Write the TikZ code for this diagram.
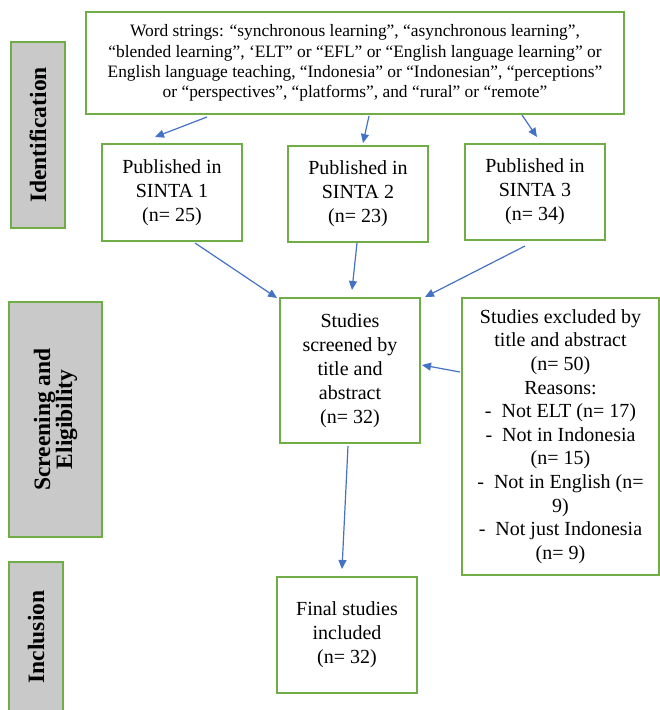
\documentclass[tikz,border=0pt]{standalone}
\usepackage{fontspec}
\setmainfont{Liberation Serif}
\newfontfamily\recordfont{Liberation Serif}
\usetikzlibrary{arrows.meta,positioning}

\definecolor{boxgreen}{RGB}{112,173,71}
\definecolor{arrowblue}{RGB}{68,114,196}
\definecolor{phasegray}{RGB}{201,201,201}

\begin{document}
\begin{tikzpicture}[
  x=1pt,
  y=-1pt,
  search box/.style={
    draw=boxgreen,
    line width=1.2pt,
    align=center,
    inner sep=0pt,
    outer sep=0pt,
    font=\recordfont\fontsize{17.4}{20.3}\selectfont
  },
  record box/.style={
    draw=boxgreen,
    line width=1.2pt,
    align=center,
    inner sep=0pt,
    outer sep=0pt,
    minimum width=140pt,
    font=\recordfont\fontsize{20}{24}\selectfont
  },
  phase box/.style={
    draw=boxgreen,
    fill=phasegray,
    line width=1.2pt,
    rotate=90,
    align=center,
    inner sep=0pt,
    outer sep=0pt,
    font=\recordfont\fontsize{23.5}{22}\selectfont\bfseries
  },
  flow arrow/.style={
    -{Triangle[length=9pt,width=8pt]},
    draw=arrowblue,
    line width=1.2pt
  }
]
\useasboundingbox (0,0) rectangle (660,710);

\node[phase box,minimum width=186pt,minimum height=54pt] (identification) at (38,135) {Identification};
\node[phase box,minimum width=235pt,minimum height=93pt] (screening) at (55.5,419.5) {Screening and\\Eligibility};
\node[phase box,minimum width=150pt,minimum height=54pt] (inclusion) at (36,637) {Inclusion};

\node[search box,minimum width=538pt,minimum height=102pt] (search) at (355,63) {
  Word strings: “synchronous learning”, “asynchronous learning”,\\
  “blended learning”, ‘ELT” or “EFL” or “English language learning” or\\
  English language teaching, “Indonesia” or “Indonesian”, “perceptions”\\
  or “perspectives”, “platforms”, and “rural” or “remote”
};

\node[record box,minimum height=97pt] (sinta1) at (172,192.5) {Published in\\SINTA 1\\(n= 25)};
\node[record box,minimum height=96pt] (sinta2) at (358,194) {Published in\\SINTA 2\\(n= 23)};
\node[record box,minimum height=96pt] (sinta3) at (535,192) {Published in\\SINTA 3\\(n= 34)};

\node[record box,minimum height=145pt] (screened) at (350,370.5) {
  Studies\\screened by\\title and\\abstract\\(n= 32)
};
\node[record box,minimum width=197pt,minimum height=277pt,
      font=\recordfont\fontsize{20}{23.6}\selectfont] (excluded) at (560.5,436.5) {
  Studies excluded by\\title and abstract\\(n= 50)\\Reasons:\\
  -\ \ Not ELT (n= 17)\\-\ \ Not in Indonesia\\(n= 15)\\
  -\ \ Not in English (n=\\9)\\-\ \ Not just Indonesia\\(n= 9)
};
\node[record box,minimum height=116pt] (final) at (347,635) {
  Final studies\\included\\(n= 32)
};

\draw[flow arrow] ([shift={(-148,3)}]search.south) -- ([shift={(-17,-7)}]sinta1.north);
\draw[flow arrow] ([shift={(14,2)}]search.south) -- ([shift={(5,-3)}]sinta2.north);
\draw[flow arrow] ([shift={(167,1)}]search.south) -- ([shift={(2,-7)}]sinta3.north);
\draw[flow arrow] ([shift={(23,2)}]sinta1.south) -- ([shift={(-3,0)}]screened.north west);
\draw[flow arrow] ([shift={(-1,1)}]sinta2.south) -- ([shift={(2,-8)}]screened.north);
\draw[flow arrow] ([shift={(-10,6)}]sinta3.south) -- ([shift={(5,-1)}]screened.north east);
\draw[flow arrow] ([shift={(-2,74)}]excluded.north west) -- ([shift={(2,-5.5)}]screened.east);
\draw[flow arrow] ([shift={(-2,3)}]screened.south) -- ([shift={(-5,-8)}]final.north);

\end{tikzpicture}
\end{document}
